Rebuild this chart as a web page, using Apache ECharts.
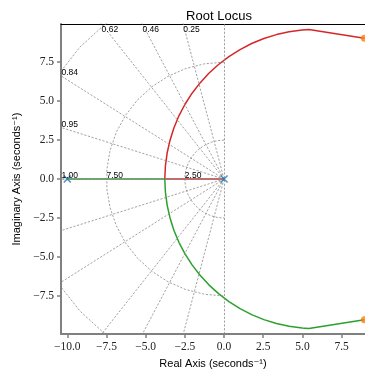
<!DOCTYPE html>
<html>
<head>
<meta charset="utf-8">
<script src="https://cdn.jsdelivr.net/npm/echarts@6/dist/echarts.min.js"></script>
<style>
  html, body { margin: 0; padding: 0; background: #fff; }
  #main { width: 365px; height: 374px; }
</style>
</head>
<body>
<div id="main"></div>
<script>
// axis limits and ticks
var xLim = [-10.4, 8.99];
var yLim = [-9.95, 9.95];
var xTicks = [-10, -7.5, -5, -2.5, 0, 2.5, 5, 7.5];
var yTicks = [-7.5, -5, -2.5, 0, 2.5, 5, 7.5];

// open loop poles / zeros
var poles = [[-10, 0], [0, 0]];
var zeros = [[8.95, 9.03], [8.95, -9.03]];

// locus branches
var redBranch = [[0, 0], [-1.9, 0], [-3.78, 0], [-3.74, 0.84], [-3.63, 1.67], [-3.45, 2.48],
  [-3.20, 3.28], [-2.88, 4.06], [-2.49, 4.80], [-2.04, 5.51], [-1.53, 6.17], [-0.97, 6.79],
  [-0.35, 7.35], [0.31, 7.86], [1.02, 8.31], [1.76, 8.70], [2.54, 9.02], [3.34, 9.27],
  [4.15, 9.45], [4.98, 9.56], [5.41, 9.59], [8.95, 9.03]];
var greenBranch = [[-10, 0], [-6.9, 0], [-3.78, 0], [-3.74, -0.84], [-3.63, -1.67], [-3.45, -2.48],
  [-3.20, -3.28], [-2.88, -4.06], [-2.49, -4.80], [-2.04, -5.51], [-1.53, -6.17], [-0.97, -6.79],
  [-0.35, -7.35], [0.31, -7.86], [1.02, -8.31], [1.76, -8.70], [2.54, -9.02], [3.34, -9.27],
  [4.15, -9.45], [4.98, -9.56], [5.41, -9.59], [8.95, -9.03]];

// s-plane grid: damping ratios and natural frequencies
var zetas = [0.2533, 0.4637, 0.6175, 0.8435, 0.9529, 1.0];
var wnRadii = [12.5, 7.5, 2.5];

var gridStyle = { color: '#8a8a8a', width: 0.8, type: [2.2, 1.6] };
var series = [];

series.push({
  type: 'line', data: redBranch, showSymbol: false, symbol: 'none',
  lineStyle: { color: '#d62728', width: 1.5 }, z: 2
});
series.push({
  type: 'line', data: greenBranch, showSymbol: false, symbol: 'none',
  lineStyle: { color: '#2ca02c', width: 1.5 }, z: 2
});

// damping lines
zetas.forEach(function (z) {
  var m = Math.sqrt(1 - z * z) / z;
  [1, -1].forEach(function (sgn) {
    series.push({
      type: 'line', symbol: 'none', silent: true, z: 3,
      data: [[0, 0], [-12.5, sgn * 12.5 * m]],
      lineStyle: gridStyle
    });
  });
});

// wn semicircles (20 pts like the original)
wnRadii.forEach(function (r) {
  var pts = [];
  for (var i = 0; i < 20; i++) {
    var a = (-90 + 180 * i / 19) * Math.PI / 180;
    pts.push([-r * Math.cos(a), -r * Math.sin(a)]);
  }
  series.push({
    type: 'line', symbol: 'none', silent: true, z: 3,
    data: pts, lineStyle: gridStyle
  });
});

// imaginary axis line
series.push({
  type: 'line', data: [], z: 3,
  markLine: {
    silent: true, symbol: 'none', label: { show: false },
    lineStyle: gridStyle,
    data: [{ xAxis: 0 }]
  }
});

series.push({
  type: 'scatter', data: poles, z: 5,
  symbol: 'path://M0,0L10,10M10,0L0,10', symbolSize: 7,
  itemStyle: { color: 'transparent', borderColor: '#1f77b4', borderWidth: 1.5 }
});
series.push({
  type: 'scatter', data: zeros, z: 5, clip: false,
  symbol: 'circle', symbolSize: 7,
  itemStyle: { color: '#ff7f0e' }
});

function fmt(v) {
  return (v < 0 ? '\u2212' : '') + Math.abs(v).toFixed(1);
}

var tickFont = { fontFamily: 'Liberation Serif', fontSize: 11.5, color: '#222' };

var myChart = echarts.init(document.getElementById('main'));
var option = {
  animation: false,
  title: {
    text: 'Root Locus', left: 214, top: 5, textAlign: 'center',
    textStyle: { fontFamily: 'Liberation Sans', fontSize: 13, fontWeight: 'normal', color: '#000' }
  },
  grid: { left: 61, right: 0, top: 24, bottom: 38 },
  xAxis: [{
    type: 'value', min: xLim[0], max: xLim[1],
    name: 'Real Axis (seconds\u207B\u00B9)', nameLocation: 'middle', nameGap: 21,
    nameTextStyle: { fontFamily: 'Liberation Sans, DejaVu Sans', fontSize: 11, color: '#000' },
    axisLine: { onZero: false, lineStyle: { color: '#808080', width: 2 } },
    axisTick: { customValues: xTicks, length: 4, lineStyle: { color: '#808080', width: 1.5 } },
    axisLabel: Object.assign({ customValues: xTicks, margin: 7, formatter: fmt }, tickFont),
    splitLine: { show: false }
  }, {
    type: 'value', min: xLim[0], max: xLim[1], position: 'top',
    axisLine: { onZero: false, lineStyle: { color: '#000', width: 1 } },
    axisTick: { show: false }, axisLabel: { show: false }, splitLine: { show: false }
  }],
  yAxis: {
    type: 'value', min: yLim[0], max: yLim[1],
    name: 'Imaginary Axis (seconds\u207B\u00B9)', nameLocation: 'middle', nameGap: 39,
    nameTextStyle: { fontFamily: 'Liberation Sans, DejaVu Sans', fontSize: 11, color: '#000' },
    axisLine: { onZero: false, lineStyle: { color: '#808080', width: 2 } },
    axisTick: { customValues: yTicks, length: 4, lineStyle: { color: '#808080', width: 1.5 } },
    axisLabel: Object.assign({ customValues: yTicks, margin: 7, formatter: fmt }, tickFont),
    splitLine: { show: false }
  },
  series: series
};
myChart.setOption(option);

// annotations for the grid, placed like the original
var texts = [];
var annFont = '8.5px "Liberation Sans"';
zetas.forEach(function (z) {
  var m = Math.sqrt(1 - z * z) / z;
  var lbl = z.toFixed(2);
  if (m > 0 && -yLim[1] / m >= xLim[0]) {
    var p = myChart.convertToPixel({ gridIndex: 0 }, [-yLim[1] / m, yLim[1]]);
    texts.push({ type: 'text', x: p[0], y: p[1] + 1.5, z: 10,
      style: { text: lbl, font: annFont, fill: '#000', textAlign: 'left', textVerticalAlign: 'top' } });
  } else {
    var q = myChart.convertToPixel({ gridIndex: 0 }, [xLim[0], -xLim[0] * m]);
    texts.push({ type: 'text', x: q[0] + 0.5, y: q[1] + 1.5, z: 10,
      style: { text: lbl, font: annFont, fill: '#000', textAlign: 'left', textVerticalAlign: 'bottom' } });
  }
});
wnRadii.forEach(function (r) {
  if (-r < xLim[0]) return;
  var p = myChart.convertToPixel({ gridIndex: 0 }, [-r, 0]);
  texts.push({ type: 'text', x: p[0], y: p[1] + 1.5, z: 10,
    style: { text: r.toFixed(2), font: annFont, fill: '#000', textAlign: 'left', textVerticalAlign: 'bottom' } });
});
myChart.setOption({ graphic: texts });
</script>
</body>
</html>
